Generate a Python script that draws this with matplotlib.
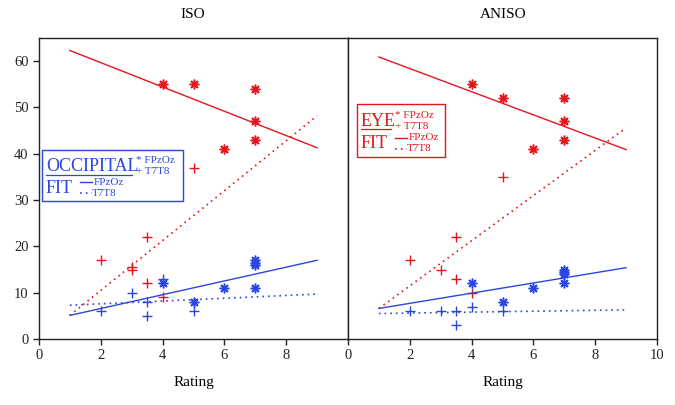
import matplotlib
matplotlib.use("Agg")
import matplotlib.pyplot as plt
from matplotlib.patches import Rectangle
from matplotlib.lines import Line2D

RED = "#e8141c"
BLUE = "#2a46e0"
SERIF = ["Liberation Serif", "DejaVu Serif"]

# ISO panel
iso_eye_fpzoz_x = [4, 5, 7, 7, 7, 6]
iso_eye_fpzoz_y = [55, 55, 54, 47, 43, 41]
iso_eye_t7t8_x = [5, 3.5, 2, 3, 3, 3.5, 4]
iso_eye_t7t8_y = [37, 22, 17, 15, 15.5, 12, 9]
iso_occ_fpzoz_x = [4, 7, 7, 7, 7, 6, 5]
iso_occ_fpzoz_y = [12, 17, 16.5, 16, 11, 11, 8]
iso_occ_t7t8_x = [4, 3, 3.5, 2, 5, 3.5]
iso_occ_t7t8_y = [13, 10, 8, 6, 6, 5]

# ANISO panel
aniso_eye_fpzoz_x = [4, 5, 7, 7, 7, 6]
aniso_eye_fpzoz_y = [55, 52, 52, 47, 43, 41]
aniso_eye_t7t8_x = [5, 3.5, 2, 3, 3.5, 4]
aniso_eye_t7t8_y = [35, 22, 17, 15, 13, 10]
aniso_occ_fpzoz_x = [4, 5, 6, 7, 7, 7, 7]
aniso_occ_fpzoz_y = [12, 8, 11, 15, 14.5, 14, 12]
aniso_occ_t7t8_x = [2, 3, 3.5, 3.5, 4, 5]
aniso_occ_t7t8_y = [6, 6, 6, 3, 7, 6]

# fit lines, values at rating 1 and 9
fit_x = [1, 9]
iso_fit_eye_fpzoz = [62.3, 41.3]
iso_fit_eye_t7t8 = [5.1, 48.2]
iso_fit_occ_fpzoz = [5.1, 17.0]
iso_fit_occ_t7t8 = [7.3, 9.7]
aniso_fit_eye_fpzoz = [60.9, 40.9]
aniso_fit_eye_t7t8 = [6.6, 45.6]
aniso_fit_occ_fpzoz = [6.6, 15.4]
aniso_fit_occ_t7t8 = [5.5, 6.3]

STAR = (8, 2, 0)


def draw_panel(ax, pts, fits):
    for (x, y, color, kind) in pts:
        if kind == "star":
            ax.plot(x, y, ls="none", marker=STAR, ms=7, mew=1.1,
                    color=color, clip_on=False)
        else:
            ax.plot(x, y, ls="none", marker="+", ms=7.5, mew=1.0,
                    color=color, clip_on=False)
    for (y, color, style) in fits:
        if style == "solid":
            ax.plot(fit_x, y, color=color, lw=1.0)
        else:
            ax.plot(fit_x, y, color=color, lw=1.2, ls=(0, (1, 2.4)))
    ax.set_ylim(0, 65)
    ax.set_xlim(0, 10)
    for s in ax.spines.values():
        s.set_linewidth(1.0)
        s.set_color("#222222")
    ax.tick_params(direction="out", length=4, width=1.0, labelsize=10.5,
                   colors="#222222")
    ax.set_xlabel("Rating", family=SERIF, fontsize=11, labelpad=10)


def legend_box(ax, x0, y0, x1, y1, color, head, head_w):
    # coordinates in figure pixels from top-left
    fig = ax.figure
    W, H = 675, 405

    def fx(px):
        return px / W

    def fy(py):
        return 1 - py / H

    fig.patches.append(Rectangle((fx(x0), fy(y1)), fx(x1) - fx(x0),
                                 fy(y0) - fy(y1), transform=fig.transFigure,
                                 fill=True, facecolor="white", edgecolor=color,
                                 lw=1.0, zorder=5))
    big = 13
    small = 8
    yc1 = y0 + (y1 - y0) * 0.31
    yc2 = y0 + (y1 - y0) * 0.75
    tx = x0 + 4
    fig.text(fx(tx), fy(yc1 + 1), head, color=color, family=SERIF, fontsize=big,
             va="center", ha="left", zorder=6)
    fig.add_artist(Line2D([fx(tx), fx(tx + head_w)], [fy(yc1 + 9), fy(yc1 + 9)],
                          color=color, lw=0.9, zorder=6))
    sx = tx + head_w + 4
    fig.text(fx(sx), fy(yc1 + 0.5), "* FPzOz\n+ T7T8", color=color,
             family=SERIF, fontsize=small, va="center", ha="left",
             linespacing=1.3, zorder=6)
    fig.text(fx(tx), fy(yc2), "FIT", color=color, family=SERIF, fontsize=big,
             va="center", ha="left", zorder=6)
    lx = tx + 34
    fig.add_artist(Line2D([fx(lx), fx(lx + 12)], [fy(yc2 - 6), fy(yc2 - 6)],
                          color=color, lw=1.0, zorder=6))
    fig.add_artist(Line2D([fx(lx), fx(lx + 12)], [fy(yc2 + 5), fy(yc2 + 5)],
                          color=color, lw=1.2, ls=(0, (1, 2.5)), zorder=6))
    fig.text(fx(lx + 14), fy(yc2 - 6), "FPzOz", color=color, family=SERIF,
             fontsize=small, va="center", ha="left", zorder=6)
    fig.text(fx(lx + 12), fy(yc2 + 5), "T7T8", color=color, family=SERIF,
             fontsize=small, va="center", ha="left", zorder=6)


fig = plt.figure(figsize=(6.75, 4.05), dpi=100)
ax1 = fig.add_axes([39 / 675, 66 / 405, 309 / 675, 301 / 405])
ax2 = fig.add_axes([348 / 675, 66 / 405, 309 / 675, 301 / 405])

draw_panel(ax1, [
    (iso_eye_fpzoz_x, iso_eye_fpzoz_y, RED, "star"),
    (iso_eye_t7t8_x, iso_eye_t7t8_y, RED, "plus"),
    (iso_occ_fpzoz_x, iso_occ_fpzoz_y, BLUE, "star"),
    (iso_occ_t7t8_x, iso_occ_t7t8_y, BLUE, "plus"),
], [
    (iso_fit_eye_fpzoz, RED, "solid"),
    (iso_fit_eye_t7t8, RED, "dot"),
    (iso_fit_occ_fpzoz, BLUE, "solid"),
    (iso_fit_occ_t7t8, BLUE, "dot"),
])
draw_panel(ax2, [
    (aniso_eye_fpzoz_x, aniso_eye_fpzoz_y, RED, "star"),
    (aniso_eye_t7t8_x, aniso_eye_t7t8_y, RED, "plus"),
    (aniso_occ_fpzoz_x, aniso_occ_fpzoz_y, BLUE, "star"),
    (aniso_occ_t7t8_x, aniso_occ_t7t8_y, BLUE, "plus"),
], [
    (aniso_fit_eye_fpzoz, RED, "solid"),
    (aniso_fit_eye_t7t8, RED, "dot"),
    (aniso_fit_occ_fpzoz, BLUE, "solid"),
    (aniso_fit_occ_t7t8, BLUE, "dot"),
])

ax1.set_xticks([0, 2, 4, 6, 8])
ax1.set_yticks([0, 10, 20, 30, 40, 50, 60])
ax2.set_xticks([0, 2, 4, 6, 8, 10])
ax2.set_yticks([])
for lab in ax1.get_xticklabels() + ax1.get_yticklabels() + ax2.get_xticklabels():
    lab.set_family(SERIF)

fig.text(193 / 675, 1 - 15 / 405, "ISO", family=SERIF, fontsize=11,
         ha="center", va="center")
fig.text(503 / 675, 1 - 15 / 405, "ANISO", family=SERIF, fontsize=11,
         ha="center", va="center")

legend_box(ax1, 42, 150, 183, 201, BLUE, "OCCIPITAL", 86)
legend_box(ax2, 357, 104, 445, 157, RED, "EYE", 30)

fig.savefig("out.png", dpi=100)
